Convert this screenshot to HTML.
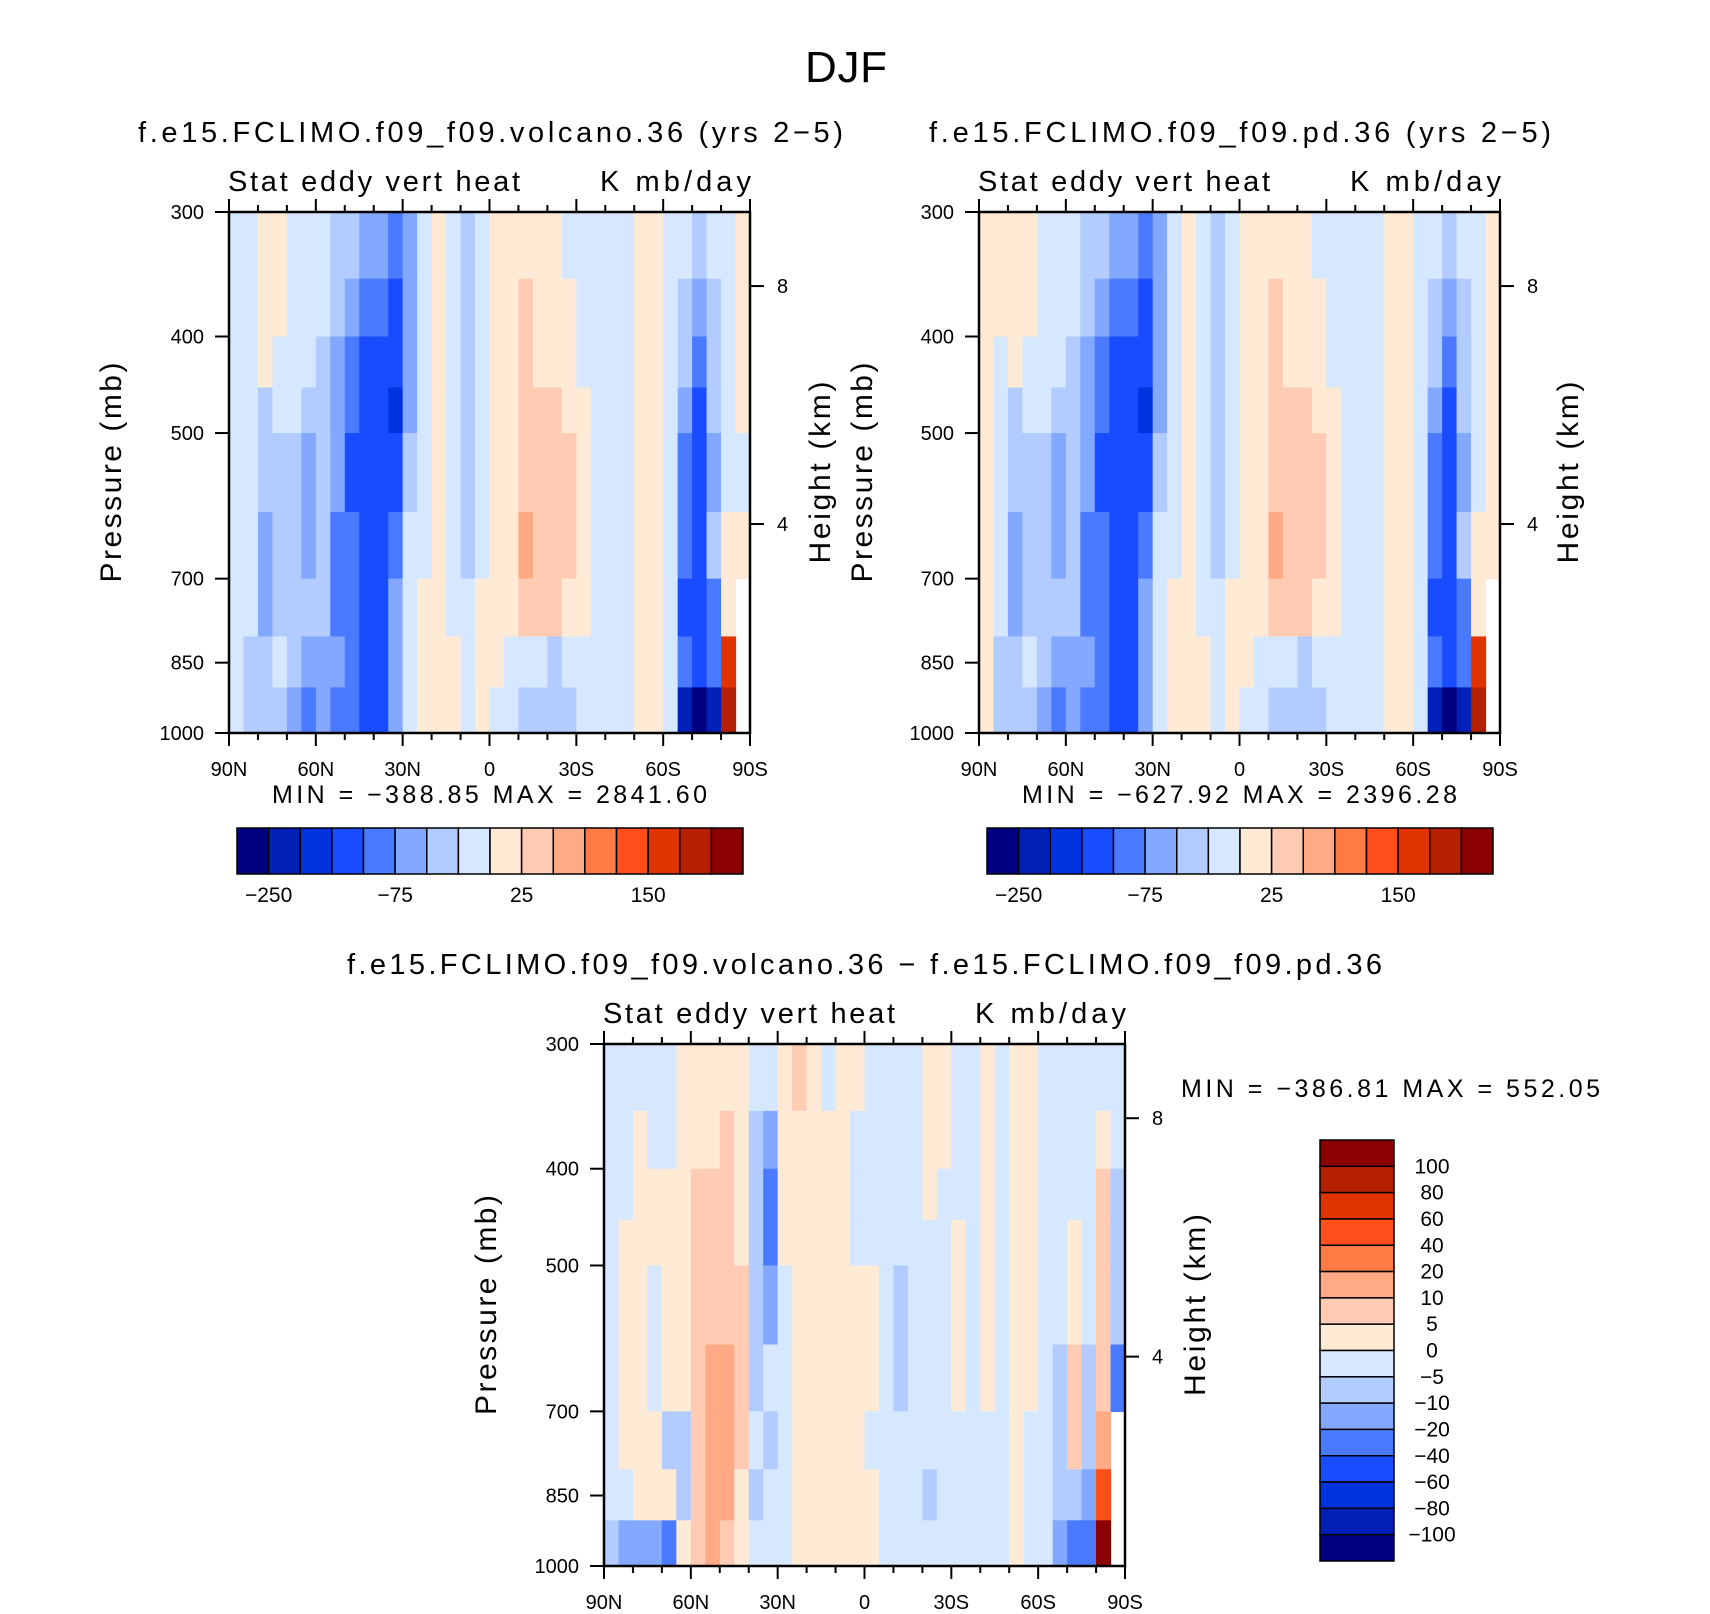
<!DOCTYPE html>
<html><head><meta charset="utf-8"><style>
html,body{margin:0;padding:0;background:#fff}
svg{display:block}
text{font-family:"Liberation Sans",sans-serif;fill:#000}
</style></head><body>
<svg id="fig" width="1710" height="1614" viewBox="0 0 1710 1614">
<text x="846" y="82" font-size="44" text-anchor="middle" textLength="82">DJF</text>
<text x="138" y="142" font-size="29" textLength="705">f.e15.FCLIMO.f09_f09.volcano.36 (yrs 2−5)</text>
<text x="929" y="142" font-size="29" textLength="622">f.e15.FCLIMO.f09_f09.pd.36 (yrs 2−5)</text>
<text x="347" y="974" font-size="29" textLength="1035">f.e15.FCLIMO.f09_f09.volcano.36 − f.e15.FCLIMO.f09_f09.pd.36</text>
<g id="root"></g>
</svg>
<script>
// pressure band edges (hPa) and latitude columns (5 deg, 90N -> 90S)
const pEdges = [300,350,400,450,500,600,700,800,900,1000];
const latEdges = [90,85,80,75,70,65,60,55,50,45,40,35,30,25,20,15,10,5,0,-5,-10,-15,-20,-25,-30,-35,-40,-45,-50,-55,-60,-65,-70,-75,-80,-85,-90];
const pTicks = [300,400,500,700,850,1000];
const latTicks = [90,60,30,0,-30,-60,-90];
const latTickLabels = ["90N","60N","30N","0","30S","60S","90S"];
const heightTicksP = [356,617];
const heightTickLabels = ["8","4"];
const colors = ["#000080","#0020B8","#0033E0","#1A4CFF","#4A7AFF","#82A8FF","#B3CCFF","#D6E8FF","#FFEAD6","#FFCCB3","#FFAA85","#FF7A45","#FF4E1A","#E03300","#B52000","#8B0000"];
const levelsTop = [-250,-200,-150,-100,-75,-50,-25,0,25,50,75,100,150,200,250];
const levelsTopLabels = ["−250","−75","25","150"];
const levelsDiff = [-100,-80,-60,-40,-20,-10,-5,0,5,10,20,40,60,80,100];
const levelsDiffLabels = ["−100","−80","−60","−40","−20","−10","−5","0","5","10","20","40","60","80","100"];

const volcano = [
[-10,-10,10,10,-10,-10,-10,-40,-40,-60,-60,-90,-60,-10,10,-10,-40,-10,10,10,10,10,10,-10,-10,-10,-10,-10,10,10,-10,-10,-40,-10,-10,10],
[-10,-10,10,10,-10,-10,-10,-40,-60,-90,-90,-120,-60,-10,10,-10,-40,-10,10,10,40,10,10,10,-10,-10,-10,-10,10,10,-10,-40,-60,-40,-10,10],
[-10,-10,10,-10,-10,-10,-40,-60,-90,-120,-120,-120,-60,-10,10,-10,-40,-10,10,10,40,10,10,10,-10,-10,-10,-10,10,10,-10,-40,-90,-40,-10,10],
[-10,-10,-40,-10,-10,-40,-40,-60,-90,-120,-120,-170,-60,-10,10,-10,-40,-10,10,10,40,40,40,10,10,-10,-10,-10,10,10,-10,-60,-120,-40,-10,10],
[-10,-10,-40,-40,-40,-60,-40,-60,-120,-120,-120,-120,-40,-10,10,-10,-40,-10,10,10,40,40,40,40,10,-10,-10,-10,10,10,-10,-90,-120,-60,-10,-10],
[-10,-10,-60,-40,-40,-60,-40,-90,-90,-120,-120,-90,-10,-10,10,-10,-40,-10,10,10,60,40,40,40,10,-10,-10,-10,10,10,-10,-90,-120,-40,10,10],
[-10,-10,-60,-40,-40,-40,-40,-90,-90,-120,-120,-60,-10,10,10,-10,-10,10,10,10,40,40,40,10,10,-10,-10,-10,10,10,-10,-120,-120,-90,10,null],
[-10,-40,-40,-10,-40,-60,-60,-60,-90,-120,-120,-60,-10,10,10,10,-10,10,10,-10,-10,-10,-40,-10,-10,-10,-10,-10,10,10,-10,-90,-120,-90,170,null],
[-10,-40,-40,-40,-60,-90,-60,-90,-90,-120,-120,-60,-10,10,10,10,-10,10,-10,-10,-40,-40,-40,-40,-10,-10,-10,-10,10,10,-10,-220,-300,-220,220,null]
];
const pd = [
[10,10,10,10,-10,-10,-10,-40,-40,-60,-60,-90,-60,-10,10,-10,-40,-10,10,10,10,10,10,-10,-10,-10,-10,-10,10,10,-10,-10,-40,-10,-10,10],
[10,10,10,10,-10,-10,-10,-40,-60,-90,-90,-120,-60,-10,10,-10,-40,-10,10,10,40,10,10,10,-10,-10,-10,-10,10,10,-10,-40,-60,-40,-10,10],
[10,-10,10,-10,-10,-10,-40,-60,-90,-120,-120,-120,-60,-10,10,-10,-40,-10,10,10,40,10,10,10,-10,-10,-10,-10,10,10,-10,-40,-90,-40,-10,10],
[10,-10,-40,-10,-10,-40,-40,-60,-90,-120,-120,-170,-60,-10,10,-10,-40,-10,10,10,40,40,40,10,10,-10,-10,-10,10,10,-10,-60,-120,-40,-10,10],
[10,-10,-40,-40,-40,-60,-40,-60,-120,-120,-120,-120,-40,-10,10,-10,-40,-10,10,10,40,40,40,40,10,-10,-10,-10,10,10,-10,-90,-120,-60,-10,10],
[10,-10,-60,-40,-40,-60,-40,-90,-90,-120,-120,-90,-10,-10,10,-10,-40,-10,10,10,60,40,40,40,10,-10,-10,-10,10,10,-10,-90,-120,-40,10,10],
[10,-10,-60,-40,-40,-40,-40,-90,-90,-120,-120,-60,-10,10,10,-10,-10,10,10,10,40,40,40,10,10,-10,-10,-10,10,10,-10,-120,-120,-90,10,null],
[10,-40,-40,-10,-40,-60,-60,-60,-90,-120,-120,-60,-10,10,10,10,-10,10,10,-10,-10,-10,-40,-10,-10,-10,-10,-10,10,10,-10,-90,-120,-90,170,null],
[10,-40,-40,-40,-60,-90,-60,-90,-90,-120,-120,-60,-10,10,10,10,-10,10,-10,-10,-40,-40,-40,-40,-10,-10,-10,-10,10,10,-10,-220,-300,-220,220,null]
];
const diff = [
[-2,-2,-2,-2,-2,2,2,2,2,2,-2,-2,2,7,2,-2,2,2,-2,-2,-2,-2,2,2,-2,-2,2,-2,2,2,-2,-2,-2,-2,-2,-2],
[-2,-2,2,-2,-2,2,2,2,7,2,-7,-15,2,2,2,2,2,-2,-2,-2,-2,-2,2,2,-2,-2,2,-2,2,2,-2,-2,-2,-2,2,-2],
[-2,-2,2,2,2,2,7,7,7,2,-7,-30,2,2,2,2,2,-2,-2,-2,-2,-2,2,-2,-2,-2,2,-2,2,2,-2,-2,-2,-2,7,-7],
[-2,2,2,2,2,2,7,7,7,2,-7,-30,2,2,2,2,2,-2,-2,-2,-2,-2,-2,-2,2,-2,2,-2,2,2,-2,-2,2,-2,7,-7],
[-2,2,2,-2,2,2,7,7,7,7,-7,-15,-2,2,2,2,2,2,2,-2,-7,-2,-2,-2,2,-2,2,-2,2,2,-2,-2,2,-2,7,-7],
[-2,2,2,-2,2,2,7,15,15,7,-7,-2,-2,2,2,2,2,2,2,-2,-7,-2,-2,-2,2,-2,2,-2,2,2,-2,-7,7,-7,7,-30],
[-2,2,2,2,-7,-7,7,15,15,7,-2,-7,-2,2,2,2,2,2,-2,-2,-2,-2,-2,-2,-2,-2,-2,-2,2,-2,-2,-7,7,-7,15,null],
[-2,-2,2,2,2,-7,7,15,15,2,-7,-2,-2,2,2,2,2,2,2,-2,-2,-2,-7,-2,-2,-2,-2,-2,2,-2,-2,-7,-7,-15,50,null],
[-7,-15,-15,-15,-30,2,7,15,7,2,-2,-2,-2,2,2,2,2,2,2,-2,-2,-2,-2,-2,-2,-2,-2,-2,2,-2,-2,-15,-30,-30,150,null]
];

const NS = "http://www.w3.org/2000/svg";
const root = document.getElementById('root');
function mk(tag, attrs, parent){const e=document.createElementNS(NS,tag);for(const k in attrs)e.setAttribute(k,attrs[k]);(parent||root).appendChild(e);return e;}
function classOf(v, levels){let i=0;while(i<levels.length && v>=levels[i])i++;return i;}

function panel(id, L, T, W, H, data, levels, opts){
  const g = mk('g',{});
  
  
  const xS = lat => L + (90-lat)/180*W;
  const yS = p => T + Math.log(p/300)/Math.log(1000/300)*H;
  const cg = mk('g',{}, g);
  
  
  for(let r=0;r<data.length;r++){
    for(let c=0;c<data[r].length;c++){
      const v = data[r][c];
      if(v===null) continue;
      const x0=xS(latEdges[c]), x1=xS(latEdges[c+1]);
      const y0=yS(pEdges[r]), y1=yS(pEdges[r+1]);
      const rc = mk('rect',{x:x0,y:y0,width:x1-x0+0.6,height:y1-y0+0.6,fill:colors[classOf(v,levels)]}, cg);
      
      
    }
  }
  const fr = mk('rect',{x:L,y:T,width:W,height:H,fill:'none',stroke:'#000','stroke-width':2.5}, g);
  
  
  for(let lat=90;lat>=-90;lat-=10){
    const maj = lat%30===0, len = maj?13:7, x=xS(lat);
    mk('line',{x1:x,y1:T,x2:x,y2:T-len,stroke:'#000','stroke-width':2}, g);
    mk('line',{x1:x,y1:T+H,x2:x,y2:T+H+len,stroke:'#000','stroke-width':2}, g);
  }
  latTicks.forEach((lat,i)=>{
    const t = mk('text',{x:xS(lat),y:T+H+43,'font-size':20,'text-anchor':'middle'}, g);
    t.textContent = latTickLabels[i];
    
    
  });
  pTicks.forEach(p=>{
    const y=yS(p);
    mk('line',{x1:L,y1:y,x2:L-14,y2:y,stroke:'#000','stroke-width':2}, g);
    const t = mk('text',{x:L-25,y:y+7,'font-size':20,'text-anchor':'end'}, g);
    t.textContent = String(p);
    
    
  });
  heightTicksP.forEach((p,i)=>{
    const y=yS(p);
    mk('line',{x1:L+W,y1:y,x2:L+W+14,y2:y,stroke:'#000','stroke-width':2}, g);
    const t = mk('text',{x:L+W+27,y:y+7,'font-size':20}, g);
    t.textContent = heightTickLabels[i];
    
    
  });
  const cy = T+H/2;
  const pl = mk('text',{x:0,y:0,'font-size':30,'text-anchor':'middle',transform:`translate(${opts.px},${cy}) rotate(-90)`,textLength:220}, g);
  pl.textContent = 'Pressure (mb)';
  
  
  const hl = mk('text',{x:0,y:0,'font-size':30,'text-anchor':'middle',transform:`translate(${opts.hx},${cy}) rotate(-90)`,textLength:182}, g);
  hl.textContent = 'Height (km)';
  
  
  const s1 = mk('text',{x:L-1,y:T-21,'font-size':29,textLength:292}, g);
  s1.textContent = 'Stat eddy vert heat';
  
  
  const s2 = mk('text',{x:L+W+1,y:T-21,'font-size':29,'text-anchor':'end',textLength:151}, g);
  s2.textContent = 'K mb/day';
  
  
  const mm = mk('text',{x:opts.mmx,y:opts.mmy,'font-size':25,textLength:opts.mmw}, g);
  mm.textContent = opts.mm;
  
  
}

function hbar(id, L, T, W, H){
  const g = mk('g',{});
  
  
  const bw = W/colors.length;
  colors.forEach((c,i)=>{
    const r = mk('rect',{x:L+i*bw,y:T,width:bw,height:H,fill:c,stroke:'#000','stroke-width':1.5}, g);
    
    
  });
  levelsTopLabels.forEach(lbl=>{
    const v = Number(lbl.replace('−','-'));
    const idx = levelsTop.indexOf(v);
    const t = mk('text',{x:L+(idx+1)*bw,y:T+H+28,'font-size':21,'text-anchor':'middle'}, g);
    t.textContent = lbl;
    
    
  });
}
function vbar(id, L, T, W, H){
  const g = mk('g',{});
  
  
  const bh = H/colors.length;
  colors.slice().reverse().forEach((c,i)=>{
    const r = mk('rect',{x:L,y:T+i*bh,width:W,height:bh,fill:c,stroke:'#000','stroke-width':1.5}, g);
    
    
  });
  levelsDiffLabels.slice().reverse().forEach((lbl,i)=>{
    const t = mk('text',{x:L+W+38,y:T+(i+1)*bh+7,'font-size':21,'text-anchor':'middle'}, g);
    t.textContent = lbl;
    
    
  });
}

panel('volcano', 229, 212, 521, 521, volcano, levelsTop, {px:121, hx:830, mmx:272, mmy:803, mmw:435, mm:'MIN = −388.85   MAX = 2841.60'});
panel('pd', 979, 212, 521, 521, pd, levelsTop, {px:872, hx:1578, mmx:1022, mmy:803, mmw:435, mm:'MIN = −627.92   MAX = 2396.28'});
panel('diff', 604, 1044, 521, 522, diff, levelsDiff, {px:496, hx:1205, mmx:1181, mmy:1097, mmw:419, mm:'MIN = −386.81   MAX = 552.05'});
hbar('colorbar-volcano', 237, 828, 506, 46);
hbar('colorbar-pd', 987, 828, 506, 46);
vbar('colorbar-diff', 1320, 1140, 74, 421);
</script>
</body></html>
